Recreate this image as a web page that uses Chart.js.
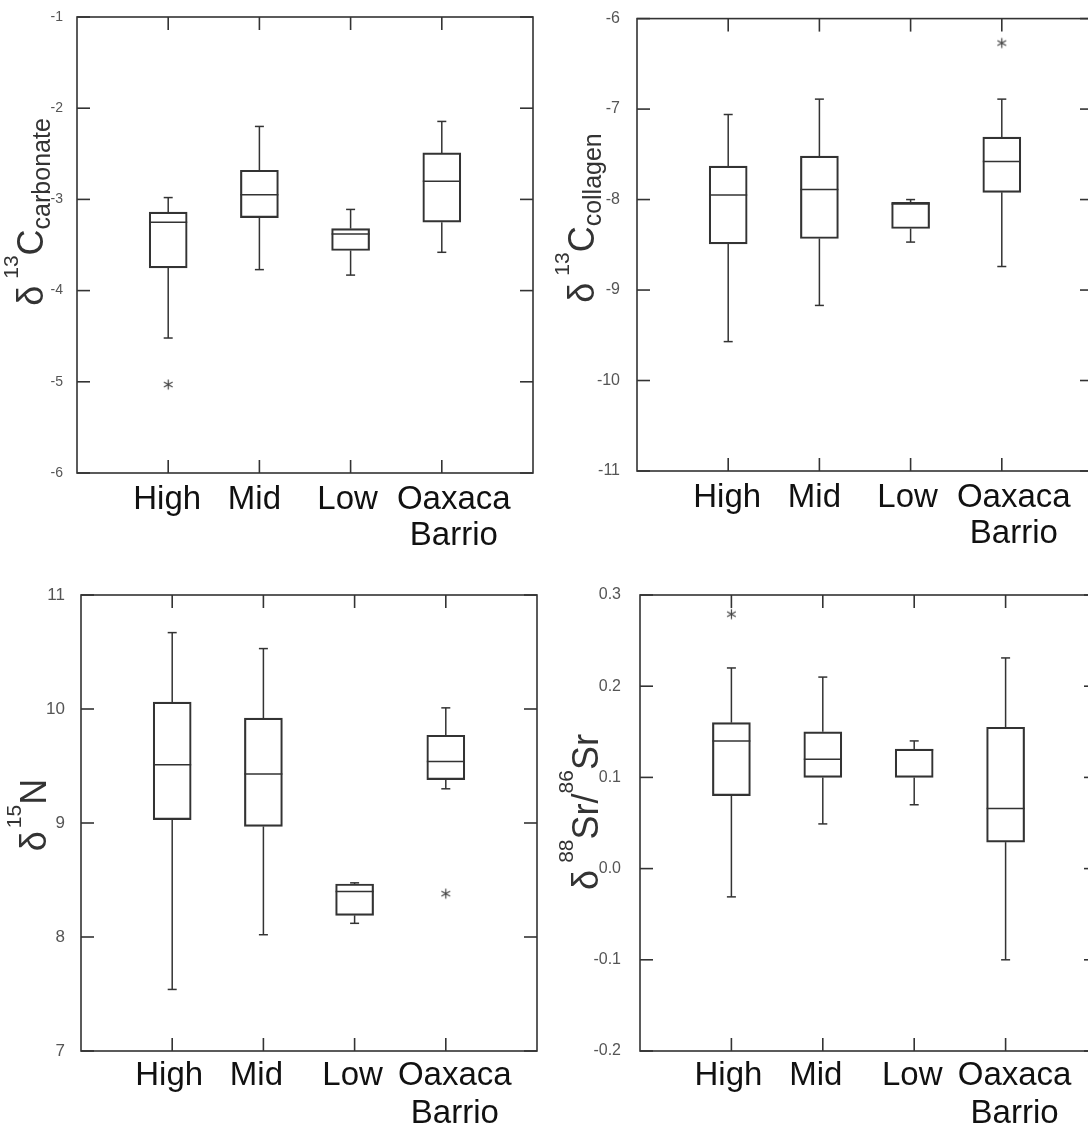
<!DOCTYPE html>
<html>
<head>
<meta charset="utf-8">
<script src="https://cdn.jsdelivr.net/npm/chart.js@4"></script>
<style>
  html, body { margin: 0; padding: 0; background: #fff; overflow: hidden; width: 1088px; height: 1127px; }
  .panel { position: absolute; }
</style>
</head>
<body>
<div class="panel" style="left:0;top:0;width:544px;height:560px"><canvas id="carbonate"></canvas></div>
<div class="panel" style="left:544px;top:0;width:560px;height:560px"><canvas id="collagen"></canvas></div>
<div class="panel" style="left:0;top:560px;width:544px;height:567px"><canvas id="nitrogen"></canvas></div>
<div class="panel" style="left:544px;top:560px;width:560px;height:567px"><canvas id="strontium"></canvas></div>
<script>
const groups = ['High', 'Mid', 'Low', ['Oaxaca', 'Barrio']];

// d13C carbonate
const carbTicks = [-6, -5, -4, -3, -2, -1];
const carbMin = [-4.52, -3.77, -3.83, -3.58];
const carbQ1 = [-3.75, -3.20, -3.56, -3.25];
const carbMed = [-3.25, -2.95, -3.38, -2.80];
const carbQ3 = [-3.14, -2.68, -3.32, -2.49];
const carbMax = [-2.98, -2.20, -3.11, -2.145];
const carbOut = [[-5.03], [], [], []];

// d13C collagen
const collTicks = [-11, -10, -9, -8, -7, -6];
const collMin = [-9.57, -9.17, -8.47, -8.74];
const collQ1 = [-8.49, -8.43, -8.32, -7.92];
const collMed = [-7.95, -7.89, -8.05, -7.58];
const collQ3 = [-7.63, -7.52, -8.03, -7.31];
const collMax = [-7.06, -6.89, -8.00, -6.89];
const collOut = [[], [], [], [-6.27]];

// d15N
const nitTicks = [7, 8, 9, 10, 11];
const nitMin = [7.54, 8.02, 8.12, 9.30];
const nitQ1 = [9.03, 8.97, 8.19, 9.38];
const nitMed = [9.51, 9.43, 8.40, 9.54];
const nitQ3 = [10.06, 9.92, 8.465, 9.77];
const nitMax = [10.67, 10.53, 8.475, 10.01];
const nitOut = [[], [], [], [8.38]];

// d88Sr/86Sr
const srTicks = [-0.2, -0.1, 0.0, 0.1, 0.2, 0.3];
const srMin = [-0.031, 0.049, 0.070, -0.100];
const srQ1 = [0.080, 0.100, 0.100, 0.029];
const srMed = [0.140, 0.120, 0.130, 0.066];
const srQ3 = [0.160, 0.150, 0.131, 0.155];
const srMax = [0.220, 0.210, 0.140, 0.231];
const srOut = [[0.279], [], [], []];

const FONT = '"Liberation Sans", Arial, sans-serif';
const INK = '#333';

// asterisk marker for outliers
const asterisk = (() => {
    const c = document.createElement('canvas');
    c.width = 13;
    c.height = 13;
    const g = c.getContext('2d');
    g.strokeStyle = '#444';
    g.lineWidth = 1.2;
    [90, 30, -30].forEach(deg => {
        const r = deg * Math.PI / 180;
        g.beginPath();
        g.moveTo(6.5 - 5 * Math.cos(r), 6.5 - 5 * Math.sin(r));
        g.lineTo(6.5 + 5 * Math.cos(r), 6.5 + 5 * Math.sin(r));
        g.stroke();
    });
    return c;
})();

const line = (ctx, x1, y1, x2, y2) => {
    ctx.beginPath();
    ctx.moveTo(x1, y1);
    ctx.lineTo(x2, y2);
    ctx.stroke();
};

// whiskers, medians, frame, inward ticks and category labels
const boxFrame = (d, L) => ({
    id: 'boxFrame',
    afterDatasetsDraw(chart) {
        const { ctx, chartArea: a, scales: { x, y } } = chart;
        const bars = chart.getDatasetMeta(0).data;
        ctx.save();
        ctx.strokeStyle = INK;
        ctx.lineWidth = 1.5;
        d.q1.forEach((q, i) => {
            const px = x.getPixelForValue(i + 1);
            const half = bars[i].width / 2;
            const cap = 4.5;
            const yMax = y.getPixelForValue(d.max[i]);
            const yMin = y.getPixelForValue(d.min[i]);
            line(ctx, px, y.getPixelForValue(d.q3[i]), px, yMax);
            line(ctx, px, y.getPixelForValue(q), px, yMin);
            line(ctx, px - cap, yMax, px + cap, yMax);
            line(ctx, px - cap, yMin, px + cap, yMin);
            const ym = y.getPixelForValue(d.med[i]);
            line(ctx, px - half, ym, px + half, ym);
        });
        ctx.lineWidth = 1.6;
        ctx.strokeRect(a.left, a.top, a.width, a.height);
        const tl = 13;
        x.ticks.forEach((t, i) => {
            const px = x.getPixelForTick(i);
            line(ctx, px, a.top, px, a.top + tl);
            line(ctx, px, a.bottom, px, a.bottom - tl);
        });
        y.ticks.forEach((t, i) => {
            const py = y.getPixelForTick(i);
            line(ctx, a.left, py, a.left + tl, py);
            line(ctx, a.right, py, a.right - tl, py);
        });

        ctx.fillStyle = '#111';
        ctx.font = '33px ' + FONT;
        ctx.textAlign = 'center';
        ctx.textBaseline = 'alphabetic';
        groups.forEach((g, i) => {
            const px = x.getPixelForTick(i) + L.labelShift[i];
            [].concat(g).forEach((txt, k) => {
                ctx.fillText(txt, px, a.bottom + L.labelDrop + k * L.labelGap);
            });
        });
        ctx.restore();
    }
});

// rotated y title with super/subscripts
const yTitle = (t) => ({
    id: 'yTitle',
    afterDraw(chart) {
        const ctx = chart.ctx;
        ctx.save();
        ctx.fillStyle = INK;
        ctx.textBaseline = 'alphabetic';
        ctx.textAlign = 'left';
        let total = 0;
        const widths = t.parts.map(p => {
            ctx.font = p.size + 'px ' + FONT;
            const w = ctx.measureText(p.text).width + (p.gap || 0);
            total += w;
            return w;
        });
        ctx.translate(t.x, t.y);
        ctx.rotate(-Math.PI / 2);
        let cx = -total / 2;
        t.parts.forEach((p, i) => {
            ctx.font = p.size + 'px ' + FONT;
            ctx.fillText(p.text, cx, -(p.shift || 0));
            cx += widths[i];
        });
        ctx.restore();
    }
});

const makePanel = (id, d, L) => {
    const outliers = [];
    d.out.forEach((vals, i) => vals.forEach(v => outliers.push({ x: i + 1, y: v })));

    new Chart(document.getElementById(id), {
        type: 'bar',
        data: {
            datasets: [{
                data: groups.map((g, i) => ({ x: i + 1, y: [d.q1[i], d.q3[i]] })),
                backgroundColor: 'rgba(0,0,0,0)',
                borderColor: INK,
                borderWidth: 1.5,
                borderSkipped: false,
                barThickness: 38,
            }, {
                type: 'scatter',
                data: outliers,
                pointStyle: asterisk,
                radius: 6,
            }]
        },
        options: {
            responsive: true,
            maintainAspectRatio: false,
            animation: false,
            layout: {
                padding: { top: L.top, right: L.right, left: 0, bottom: 0 }
            },
            plugins: {
                legend: { display: false },
                tooltip: { enabled: false },
            },
            scales: {
                x: {
                    type: 'linear',
                    min: 0,
                    max: 5,
                    offset: false,
                    grid: { display: false, offset: false },
                    border: { display: false },
                    afterBuildTicks: (scale) => {
                        scale.ticks = groups.map((g, i) => ({ value: i + 1 }));
                    },
                    afterFit: (scale) => { scale.height = L.xh; },
                    ticks: { display: false }
                },
                y: {
                    type: 'linear',
                    min: d.ticks[0],
                    max: d.ticks[d.ticks.length - 1],
                    grid: { display: false },
                    border: { display: false },
                    afterBuildTicks: (scale) => {
                        scale.ticks = d.ticks.map(v => ({ value: v }));
                    },
                    afterFit: (scale) => { scale.width = L.yw; },
                    ticks: {
                        padding: L.tickPad,
                        color: '#555',
                        font: { family: FONT, size: L.tickSize },
                        callback: (v) => v.toFixed(d.decimals),
                    }
                }
            }
        },
        plugins: [boxFrame(d, L), yTitle(L.title)]
    });
};

const topLabels = { labelShift: [-1, -5, -3, 12], labelDrop: 36, labelGap: 36 };
const bottomLabels = { labelShift: [-3, -7, -2, 9], labelDrop: 34, labelGap: 38 };

makePanel('carbonate',
    { ticks: carbTicks, decimals: 0, min: carbMin, q1: carbQ1, med: carbMed, q3: carbQ3, max: carbMax, out: carbOut },
    { ...topLabels, top: 17, right: 11, yw: 77, xh: 87, tickPad: 6, tickSize: 14,
      title: { x: 43, y: 212, parts: [
          { text: 'δ', size: 36, gap: 7 },
          { text: '13', size: 21, shift: 25 },
          { text: 'C', size: 36 },
          { text: 'carbonate', size: 25, shift: -7 }] } });

makePanel('collagen',
    { ticks: collTicks, decimals: 0, min: collMin, q1: collQ1, med: collMed, q3: collQ3, max: collMax, out: collOut },
    { ...topLabels, top: 16, right: 11, yw: 93, xh: 89, tickPad: 9, tickSize: 16,
      title: { x: 50, y: 218, parts: [
          { text: 'δ', size: 36, gap: 7 },
          { text: '13', size: 21, shift: 25 },
          { text: 'C', size: 36 },
          { text: 'collagen', size: 25, shift: -7 }] } });

makePanel('nitrogen',
    { ticks: nitTicks, decimals: 0, min: nitMin, q1: nitQ1, med: nitMed, q3: nitQ3, max: nitMax, out: nitOut },
    { ...bottomLabels, top: 35, right: 6, yw: 81, xh: 76, tickPad: 8, tickSize: 17,
      title: { x: 46, y: 255, parts: [
          { text: 'δ', size: 36, gap: 3 },
          { text: '15', size: 21, shift: 25 },
          { text: 'N', size: 36 }] } });

makePanel('strontium',
    { ticks: srTicks, decimals: 1, min: srMin, q1: srQ1, med: srMed, q3: srQ3, max: srMax, out: srOut },
    { ...bottomLabels, top: 35, right: 7, yw: 96, xh: 76, tickPad: 11, tickSize: 16,
      title: { x: 54, y: 252, parts: [
          { text: 'δ', size: 36, gap: 7 },
          { text: '88', size: 21, shift: 25 },
          { text: 'Sr/', size: 36 },
          { text: '86', size: 21, shift: 25 },
          { text: 'Sr', size: 36 }] } });
</script>
</body>
</html>
